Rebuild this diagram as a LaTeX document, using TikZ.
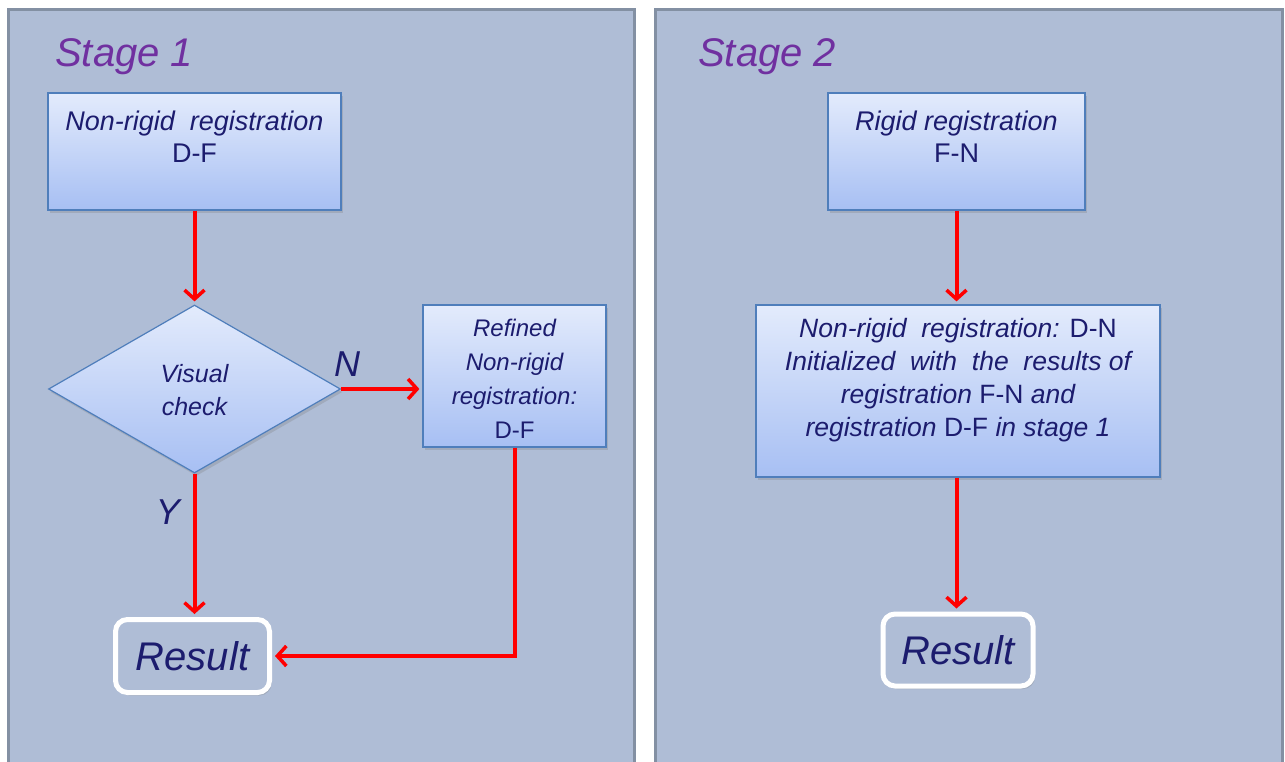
\documentclass[tikz,border=0pt]{standalone}
\usepackage{fontspec}
\setmainfont{Liberation Sans}
\usetikzlibrary{shapes.geometric,arrows.meta,shadows}
\definecolor{panelbg}{HTML}{AFBDD6}
\definecolor{panelline}{HTML}{8390A3}
\definecolor{boxline}{HTML}{4F7EBB}
\definecolor{boxtop}{HTML}{E3EBFC}
\definecolor{boxbot}{HTML}{A7BFF3}
\definecolor{navy}{HTML}{1C1C6E}
\definecolor{stagecol}{HTML}{7030A0}
\tikzset{
  panel/.style={draw=panelline, line width=3pt, fill=panelbg},
  procbox/.style={draw=boxline, line width=1.2pt, top color=boxtop, bottom color=boxbot,
    drop shadow={shadow xshift=2pt,shadow yshift=-3pt,opacity=0.3}, inner sep=0pt},
  boxtext/.style={text=navy, font=\fontsize{27}{32}\selectfont\itshape, align=center, inner sep=0pt},
  stagelabel/.style={text=stagecol, font=\fontsize{40}{42}\selectfont\itshape, anchor=base west, inner sep=0pt},
  resultbox/.style={draw=white, line width=5pt, fill=panelbg, rounded corners=12pt,
    drop shadow={shadow xshift=2pt,shadow yshift=-3pt,opacity=0.3},
    text=navy, font=\fontsize{40}{42}\selectfont\itshape},
  yn/.style={text=navy, font=\fontsize{36}{40}\selectfont\itshape, inner sep=0pt},
  flow/.style={draw=red, line width=4pt, shorten >=3pt, -{Straight Barb[length=9pt,width=20pt,line width=3.5pt]}},
}
\begin{document}
\begin{tikzpicture}[x=1pt,y=-1pt]
\clip (0,0) rectangle (1285,762);
\fill[white] (0,0) rectangle (1285,762);
% panels
\draw[panel] (8,10) rectangle (634,780);
\draw[panel] (655,10) rectangle (1282,780);
\node[stagelabel] (st1) at (55,67) {Stage 1};
\node[stagelabel] (st2) at (698,67) {Stage 2};
% stage 1
\node[procbox, minimum width=293pt, minimum height=117pt] (b1) at (194.5,151.5) {};
\node[boxtext] (t1) at (194.5,137) {Non-rigid\ \ registration\\ \textup{D-F}};
\node[procbox, shape=diamond, minimum width=292pt, minimum height=168pt] (dia) at (194.5,389) {};
\node[boxtext, font=\fontsize{25}{33}\selectfont\itshape] (dt) at (194.5,390) {Visual\\check};
\node[procbox, minimum width=183pt, minimum height=142pt] (ref) at (514.5,376) {};
\node[boxtext, font=\fontsize{24}{34}\selectfont\itshape] (rt) at (514.5,379) {Refined\\Non-rigid\\registration:\\ \textup{D-F}};
\node[resultbox, minimum width=154pt, minimum height=73pt] (r1) at (192.5,656) {Result};
\node[yn] (nlab) at (347,364) {N};
\node[yn] (ylab) at (168,512) {Y};
\draw[flow] (b1.south) -- (dia.north);
\draw[flow] (dia.east) -- (dia.east -| ref.west);
\draw[flow] (dia.south) -- (dia.south |- r1.north);
\draw[flow] (ref.south) |- (r1.east);
% stage 2
\node[procbox, minimum width=257pt, minimum height=117pt] (b2) at (956.5,151.5) {};
\node[boxtext] (t2) at (956.5,137) {Rigid registration\\ \textup{F-N}};
\node[procbox, minimum width=404pt, minimum height=172pt] (b3) at (958,391) {};
\node[boxtext, font=\fontsize{26.5}{33}\selectfont\itshape] (t3) at (958,380) {Non-rigid\ \ registration: \textup{D-N}\\ Initialized\ \ with\ \ the\ \ results of\\ registration \textup{F-N} and\\ registration \textup{D-F} in stage 1};
\node[resultbox, minimum width=150pt, minimum height=72pt] (r2) at (958,650) {Result};
\draw[flow] (b2.south) -- (b2.south |- b3.north);
\draw[flow] (b3.south -| b2.south) -- (b2.south |- r2.north);
\end{tikzpicture}
\end{document}
